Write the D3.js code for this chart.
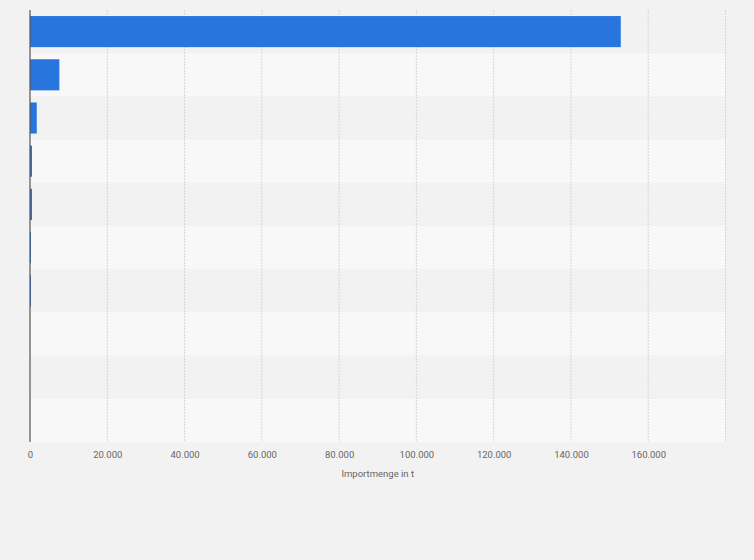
<!DOCTYPE html>
<html><head><meta charset="utf-8">
<script src="https://cdn.jsdelivr.net/npm/d3@7"></script>
<style>body{margin:0;background:#f2f2f2;}svg{display:block;font-family:Roboto,"Open Sans",sans-serif;}</style>
</head><body><svg id="c" width="754" height="560"></svg>
<script>
const categories = ["1","2","3","4","5","6","7","8","9","10"];
const values = [152900, 7600, 1750, 520, 520, 260, 260, 0, 0, 0];
const tickValues = [0,20000,40000,60000,80000,100000,120000,140000,160000,180000];
const tickLabels = ["0","20.000","40.000","60.000","80.000","100.000","120.000","140.000","160.000",""];
const axisTitle = "Importmenge in t";

const svg = d3.select("#c");
const L=30, R=725.5, T=10, B=442;
const x = d3.scaleLinear().domain([0,180000]).range([L,R]);
const y = d3.scaleBand().domain(categories).range([T,B]).paddingInner(0).paddingOuter(0);

svg.append("g").selectAll("rect").data(categories).join("rect")
  .attr("x",L).attr("width",R-L).attr("y",d=>y(d)).attr("height",y.bandwidth())
  .attr("fill",(d,i)=>i%2?"#f8f8f8":"#f2f2f2");

svg.append("g").selectAll("line").data(tickValues.slice(1)).join("line")
  .attr("x1",d=>x(d)).attr("x2",d=>x(d)).attr("y1",T).attr("y2",B)
  .attr("stroke","#d6d6d6").attr("stroke-dasharray","2,1");

const inset = y.bandwidth()*0.14;
svg.append("g").selectAll("rect").data(values).join("rect")
  .attr("x",L).attr("y",(d,i)=>y(categories[i])+inset)
  .attr("width",d=>x(d)-L).attr("height",y.bandwidth()-2*inset)
  .attr("fill","#2876dd");

svg.append("line").attr("x1",L).attr("x2",L).attr("y1",T).attr("y2",B)
  .attr("stroke","#555").attr("stroke-width",1.2);

const ax = d3.axisBottom(x).tickValues(tickValues).tickFormat((d,i)=>tickLabels[i]).tickSize(0).tickPadding(9);
const g = svg.append("g").attr("transform",`translate(0,${B})`).call(ax);
g.select(".domain").remove();
g.selectAll("text").attr("fill","#666").attr("font-size",9.5).attr("font-family","Roboto,sans-serif");

svg.append("text").attr("x",(L+R)/2).attr("y",477).attr("text-anchor","middle")
  .attr("fill","#666").attr("font-size",9.5).text(axisTitle);
</script></body></html>
